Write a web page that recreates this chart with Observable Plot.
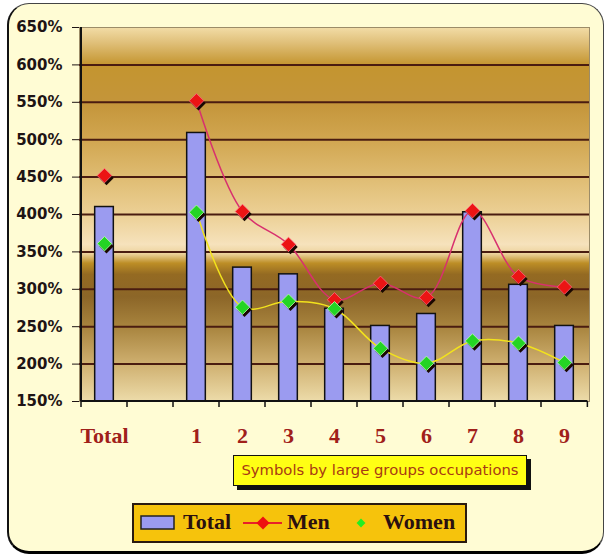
<!DOCTYPE html>
<html><head><meta charset="utf-8">
<script src="https://cdn.jsdelivr.net/npm/d3@7"></script>
<script src="https://cdn.jsdelivr.net/npm/@observablehq/plot@0.6"></script>
<style>
body{margin:0;background:#fff;width:609px;height:556px;position:relative;overflow:hidden;font-family:"DejaVu Sans",sans-serif}
#frame{position:absolute;left:7px;top:3px;width:597px;height:551px;box-sizing:border-box;border:1.5px solid #444;border-bottom:3px solid #000;border-left:2px solid #111;border-radius:22px;background:#fffcd4}
#chart{position:absolute;left:0;top:0}
#note{position:absolute;left:233px;top:455px;width:294px;height:31px;box-sizing:border-box;background:#ffff14;border:1.5px solid #111;box-shadow:4px 4px 0 #111;font:14.8px "DejaVu Sans",sans-serif;color:#a83a12;text-align:center;line-height:28px;white-space:nowrap}
#legend{position:absolute;left:132px;top:503px;width:335px;height:40px;box-sizing:border-box;background:#f6c30c;border:2px solid #2a1a10}
#legend .t{position:absolute;top:6px;font:bold 22px "Liberation Serif",serif;color:#2a1010;line-height:22px}
#legend svg{position:absolute;left:0;top:0}
</style></head><body>
<div id="frame"></div>
<div id="chart"></div>
<div id="note"></div>
<div id="legend"></div>
<script>
// ---- data ----
const categories = ["Total", " ", "1", "2", "3", "4", "5", "6", "7", "8", "9"];
const totalValues = [410, null, 509, 329, 320, 274, 251, 267, 403, 306, 251];
const menValues   = [452, null, 552, 404, 360, 286, 308, 289, 405, 317, 303];
const womenValues = [361, null, 403, 276, 284, 274, 221, 201, 231, 228, 202];
const yTicks = [150, 200, 250, 300, 350, 400, 450, 500, 550, 600, 650];
const seriesNames = ["Total", "Men", "Women"];
const noteText = "Symbols by large groups occupations";

const yMin = yTicks[0], yMax = yTicks[yTicks.length - 1];
const rows = categories.map((c, i) => ({cat: c, total: totalValues[i], men: menValues[i], women: womenValues[i]}));
const groupRows = rows.filter(r => /^\d+$/.test(r.cat));

const W = 609, H = 450, mL = 79, mR = 20, mT = 27, mB = 49;
const bw = (W - mL - mR) / categories.length;
const barW = 19;

function edges(index, scales) {
  const x = scales.x, y = scales.y;
  const g = d3.create("svg:g").attr("stroke", "#111").attr("stroke-width", 1.5);
  const xs = categories.map(c => x(c));
  xs.push(x(categories[categories.length - 1]) + bw);
  g.selectAll("line.tk").data(xs).join("line").attr("class", "tk")
    .attr("x1", d => d).attr("x2", d => d).attr("y1", y(yMin)).attr("y2", y(yMin) + 6);
  g.append("line").attr("x1", xs[0]).attr("x2", xs[0]).attr("y1", y(yMax)).attr("y2", y(yMin)).attr("stroke-width", 2);
  g.append("line").attr("x1", xs[0]).attr("x2", xs[xs.length - 1]).attr("y1", y(yMin)).attr("y2", y(yMin)).attr("stroke-width", 2);
  return g.node();
}

const chart = Plot.plot({
  width: W, height: H,
  marginLeft: mL, marginRight: mR, marginTop: mT, marginBottom: mB,
  style: {background: "transparent", overflow: "visible"},
  x: {type: "band", domain: categories, padding: 0},
  y: {domain: [yMin, yMax]},
  marks: [
    Plot.frame({fill: "url(#bg)", stroke: "#9c8c68", strokeWidth: 1}),
    Plot.ruleY(yTicks.filter(t => t > yMin && t < yMax), {stroke: "#4a1c10", strokeWidth: 2}),
    Plot.axisY({ticks: yTicks, tickFormat: d => d + "%", tickSize: 7, tickPadding: 10,
      fontSize: 15, fontWeight: "bold", fontFamily: "DejaVu Sans", color: "#1e1414", label: null}),
    Plot.axisX({tickSize: 0, tickPadding: 26, fontSize: 22, fontWeight: "bold",
      fontFamily: "Liberation Serif", color: "#a0201a", label: null}),
    Plot.barY(rows.filter(r => r.total != null), {x: "cat", y1: yMin, y2: "total",
      insetLeft: (bw - barW) / 2, insetRight: (bw - barW) / 2,
      fill: "#9b9bf0", stroke: "#111", strokeWidth: 1.5}),
    Plot.line(groupRows, {x: "cat", y: "men", stroke: "#d8306e", strokeWidth: 1.5, curve: "catmull-rom"}),
    Plot.line(groupRows, {x: "cat", y: "women", stroke: "#f2e21c", strokeWidth: 1.5, curve: "catmull-rom"}),
    Plot.dot(rows.filter(r => r.men != null), {x: "cat", y: "men", symbol: "diamond2", r: 6.5, fill: "#1a0800", dx: 2, dy: 2.5}),
    Plot.dot(rows.filter(r => r.women != null), {x: "cat", y: "women", symbol: "diamond2", r: 6.5, fill: "#1a0800", dx: 2, dy: 2.5}),
    Plot.dot(rows.filter(r => r.men != null), {x: "cat", y: "men", symbol: "diamond2", r: 6.5, fill: "#ec1414", stroke: "#ff6a80", strokeWidth: 0.8}),
    Plot.dot(rows.filter(r => r.women != null), {x: "cat", y: "women", symbol: "diamond2", r: 6.5, fill: "#24d424", stroke: "#b8ffb0", strokeWidth: 0.8}),
    edges
  ]
});

// background gradient of the plot area
const stops = [
  [0, "#f2dca6"], [0.04, "#e0c07a"], [0.10, "#c4952f"], [0.2, "#c4953a"], [0.3, "#d1a650"],
  [0.4, "#dfbc72"], [0.5, "#ecd095"], [0.58, "#f6e2bc"], [0.605, "#ecd29c"], [0.63, "#bd8e26"],
  [0.66, "#946a22"], [0.72, "#8c6628"], [0.8, "#a8843e"], [0.9, "#cfb070"], [1, "#eddcaa"]
];
const defs = d3.select(chart).insert("defs", ":first-child");
const lg = defs.append("linearGradient").attr("id", "bg").attr("x1", 0).attr("y1", 0).attr("x2", 0).attr("y2", 1);
stops.forEach(([o, c]) => lg.append("stop").attr("offset", o).attr("stop-color", c));
document.getElementById("chart").appendChild(chart);

// note box
document.getElementById("note").textContent = noteText;

// legend
const leg = d3.select("#legend");
const ls = leg.append("svg").attr("width", 331).attr("height", 36);
ls.append("rect").attr("x", 7).attr("y", 11).attr("width", 33).attr("height", 13).attr("fill", "#9b9bf0").attr("stroke", "#222").attr("stroke-width", 1.5);
ls.append("line").attr("x1", 109).attr("x2", 148).attr("y1", 18).attr("y2", 18).attr("stroke", "#e8202a").attr("stroke-width", 2);
ls.append("path").attr("d", d3.symbol(d3.symbolDiamond2, 110)()).attr("transform", "translate(129,18)").attr("fill", "#ee1010");
ls.append("path").attr("d", d3.symbol(d3.symbolDiamond2, 50)()).attr("transform", "translate(227,18)").attr("fill", "#22ee22");
const lx = [49, 153, 249];
seriesNames.forEach((n, i) => leg.append("span").attr("class", "t").style("left", lx[i] + "px").text(n));
</script>
</body></html>
